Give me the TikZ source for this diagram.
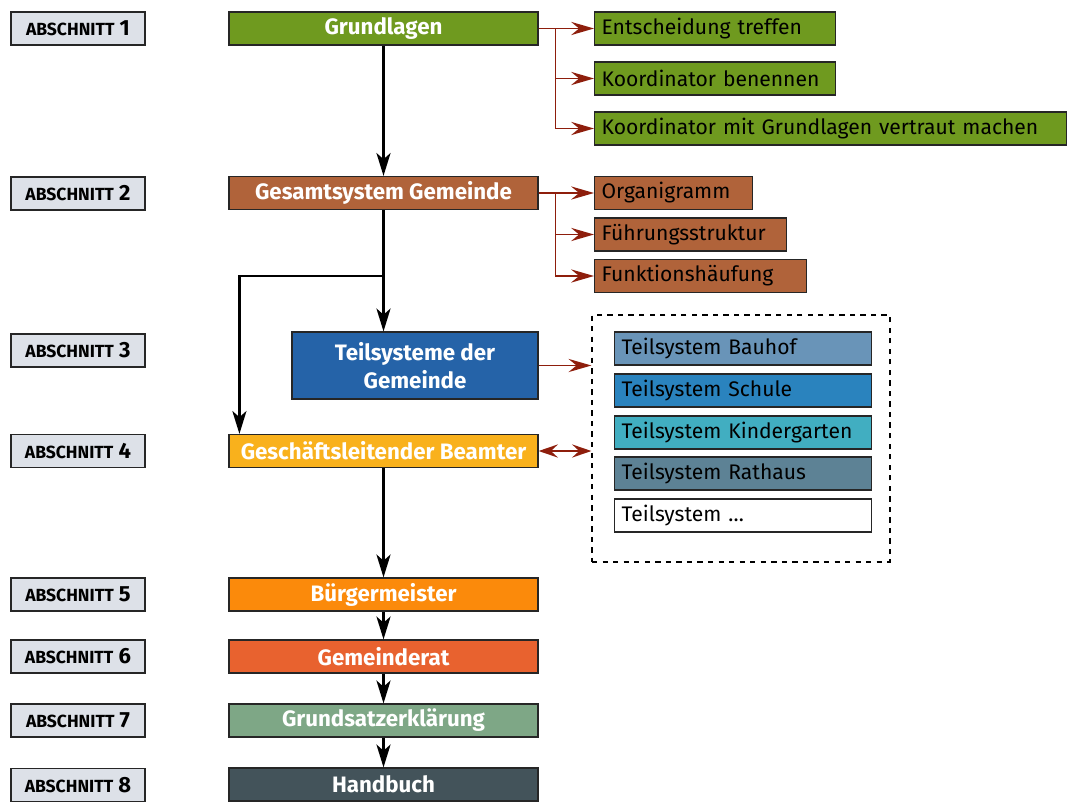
\documentclass[tikz,border=0pt]{standalone}
\usepackage{fontspec}
\setmainfont{Fira Sans}
\usetikzlibrary{arrows.meta}

\definecolor{abgrey}{HTML}{DDE1E8}
\definecolor{grundgreen}{HTML}{6F9A1F}
\definecolor{gesamtbrown}{HTML}{B0633A}
\definecolor{teilblue}{HTML}{2563A8}
\definecolor{geschyellow}{HTML}{F9B11C}
\definecolor{buergorange}{HTML}{FB8A0B}
\definecolor{ratorange}{HTML}{E8622F}
\definecolor{satzgreen}{HTML}{7EA786}
\definecolor{buchgrey}{HTML}{43535A}
\definecolor{bauhofblue}{HTML}{6994B8}
\definecolor{schuleblue}{HTML}{2A83BE}
\definecolor{kinderteal}{HTML}{41AEC1}
\definecolor{rathausgrey}{HTML}{5D8295}
\definecolor{arrowred}{HTML}{8E1E0C}

\begin{document}
\begin{tikzpicture}[x=0.02cm, y=-0.02cm,
	box/.style={draw=black!85, line width=0.7pt, minimum height=0.66cm, inner sep=0pt},
	mainbox/.style={box, minimum width=6.18cm, text=white, font=\fontsize{12.7}{16}\selectfont\bfseries},
	subbox/.style={box, anchor=west, text width=#1, align=left, inner xsep=0.14cm, font=\fontsize{12}{14}\selectfont},
	abbox/.style={box, fill=abgrey, minimum width=2.68cm, font=\fontsize{12.5}{14}\selectfont\bfseries},
	flow/.style={-{Stealth[length=13pt, width=8pt, inset=3.5pt]}, line width=1.4pt},
	redflow/.style={-{Stealth[length=13pt, width=7.5pt, inset=4.5pt]}, draw=arrowred, line width=1pt}]

	\useasboundingbox (0,0) rectangle (1070,801);

	% Abschnitte
	\node[abbox] (ab1) at (78,28.5) {{\fontsize{10}{12}\selectfont ABSCHNITT} 1};
	\node[abbox] (ab2) at (78,193.5) {{\fontsize{10}{12}\selectfont ABSCHNITT} 2};
	\node[abbox] (ab3) at (78,350.5) {{\fontsize{10}{12}\selectfont ABSCHNITT} 3};
	\node[abbox] (ab4) at (78,451) {{\fontsize{10}{12}\selectfont ABSCHNITT} 4};
	\node[abbox] (ab5) at (78,594.5) {{\fontsize{10}{12}\selectfont ABSCHNITT} 5};
	\node[abbox] (ab6) at (78,656.5) {{\fontsize{10}{12}\selectfont ABSCHNITT} 6};
	\node[abbox] (ab7) at (78,720.5) {{\fontsize{10}{12}\selectfont ABSCHNITT} 7};
	\node[abbox] (ab8) at (78,785) {{\fontsize{10}{12}\selectfont ABSCHNITT} 8};

	% Hauptkette
	\node[mainbox, fill=grundgreen] (grund) at (383.5,28.5) {Grundlagen};
	\node[mainbox, fill=gesamtbrown] (gesamt) at (383.5,193) {Gesamtsystem Gemeinde};
	\node[mainbox, fill=teilblue, minimum width=4.92cm, minimum height=1.34cm, align=center] (teil) at (415,365.5) {Teilsysteme der\\Gemeinde};
	\node[mainbox, fill=geschyellow] (gesch) at (383.5,451) {Geschäftsleitender Beamter};
	\node[mainbox, fill=buergorange] (buerg) at (383.5,594.5) {Bürgermeister};
	\node[mainbox, fill=ratorange] (rat) at (383.5,656.5) {Gemeinderat};
	\node[mainbox, fill=satzgreen] (satz) at (383.5,720.5) {Grundsatzerklärung};
	\node[mainbox, fill=buchgrey] (buch) at (383.5,784.5) {Handbuch};

	% Unterpunkte
	\node[subbox=4.54cm, fill=grundgreen] (entsch) at (594,28.5) {Entscheidung treffen};
	\node[subbox=4.54cm, fill=grundgreen] (koord) at (594,78.5) {Koordinator benennen};
	\node[subbox=9.16cm, fill=grundgreen] (vertraut) at (594,128.5) {Koordinator mit Grundlagen vertraut machen};
	\node[subbox=2.88cm, fill=gesamtbrown] (organi) at (594,193) {Organigramm};
	\node[subbox=3.56cm, fill=gesamtbrown] (fuehr) at (594,234.5) {Führungsstruktur};
	\node[subbox=3.96cm, fill=gesamtbrown] (funk) at (594,276) {Funktionshäufung};

	% Teilsysteme
	\node[draw, dashed, line width=0.7pt, minimum width=5.96cm, minimum height=4.94cm] (pool) at (741,438.5) {};
	\node[subbox=4.86cm, fill=bauhofblue] (bauhof) at (614,348.5) {Teilsystem Bauhof};
	\node[subbox=4.86cm, fill=schuleblue] (schule) at (614,390.5) {Teilsystem Schule};
	\node[subbox=4.86cm, fill=kinderteal] (kinder) at (614,432.5) {Teilsystem Kindergarten};
	\node[subbox=4.86cm, fill=rathausgrey] (rathaus) at (614,473.5) {Teilsystem Rathaus};
	\node[subbox=4.86cm, fill=white] (weitere) at (614,515.5) {Teilsystem \dots};

	% schwarze Pfeile
	\draw[flow] (grund.south) -- (gesamt.north);
	\draw[flow] (gesamt.south) -- (gesamt.south |- teil.north);
	\draw[flow] (gesamt.south) ++(0,66) -| ([xshift=0.22cm]gesch.north west);
	\draw[flow] (gesch.south) -- (buerg.north);
	\draw[flow] (buerg.south) -- (rat.north);
	\draw[flow] (rat.south) -- (satz.north);
	\draw[flow] (satz.south) -- (buch.north);

	% rote Pfeile
	\draw[redflow] (grund.east) -- (entsch.west);
	\draw[redflow] (grund.east) -- ++(17,0) |- (koord.west);
	\draw[redflow] (grund.east) -- ++(17,0) |- (vertraut.west);
	\draw[redflow] (gesamt.east) -- (organi.west);
	\draw[redflow] (gesamt.east) -- ++(17,0) |- (fuehr.west);
	\draw[redflow] (gesamt.east) -- ++(17,0) |- (funk.west);
	\draw[redflow] (teil.east) -- (pool.west |- teil.east);
	\draw[redflow, {Stealth[length=11pt, width=7.5pt, inset=4pt]}-{Stealth[length=11pt, width=7.5pt, inset=4pt]}] (gesch.east) -- (pool.west |- gesch.east);
\end{tikzpicture}
\end{document}
